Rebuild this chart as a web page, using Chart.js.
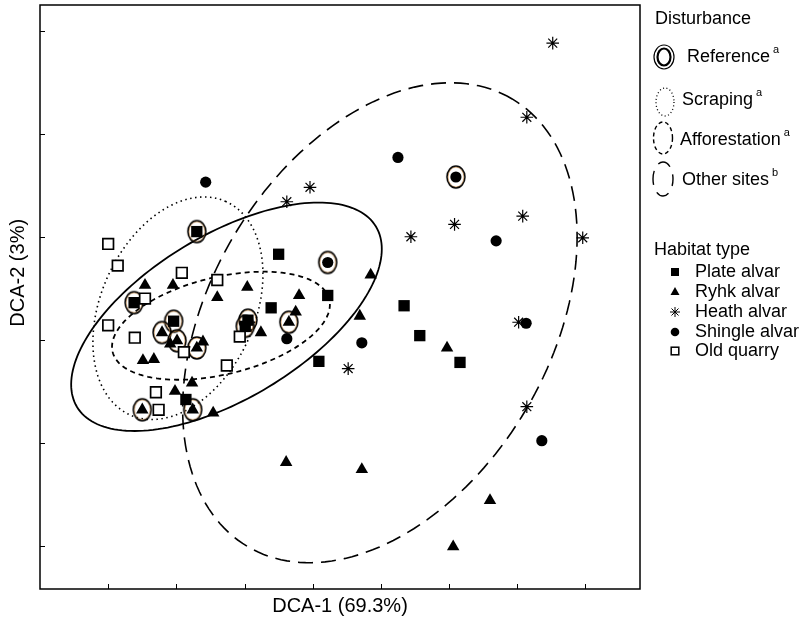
<!DOCTYPE html>
<html>
<head>
<meta charset="utf-8">
<script src="https://cdn.jsdelivr.net/npm/chart.js@4.4.1/dist/chart.umd.min.js"></script>
<style>
  html, body { margin: 0; padding: 0; background: #fff; }
  #wrap { position: relative; width: 802px; height: 621px; }
  #legend { position: absolute; left: 0; top: 0; width: 802px; height: 621px; pointer-events: none;
            font-family: "Liberation Sans", Arial, sans-serif; font-size: 18px; color: #000; }
  #legend .lbl { position: absolute; white-space: nowrap; line-height: 1; }
  #legend sup { font-size: 11px; position: relative; top: -2px; margin-left: 3px; }
  #legend svg { position: absolute; left: 0; top: 0; }
</style>
</head>
<body>
<div id="wrap">
  <canvas id="c" width="802" height="621"></canvas>
  <div id="legend"></div>
</div>
<script>
// ── data (DCA axis units) ──────────────────────────────────
const xTicks = [1, 2, 3, 4, 5, 6, 7, 8];
const yTicks = [0, 1, 2, 3, 4, 5];

const plateAlvar = [
  [2.30, 3.05], [3.50, 2.83], [1.38, 2.36], [3.39, 2.31], [1.96, 2.18], [3.05, 2.19], [3.01, 2.13],
  [4.22, 2.43], [5.34, 2.33], [5.57, 2.04], [6.16, 1.78], [4.09, 1.79], [2.14, 1.42]
];
const ryhkAlvar = [
  [1.54, 2.53], [1.95, 2.53], [2.60, 2.41], [3.04, 2.51], [3.80, 2.43], [3.75, 2.27], [3.65, 2.17],
  [4.85, 2.63], [4.69, 2.23], [5.97, 1.92], [3.24, 2.07], [2.39, 1.98], [1.79, 2.07], [2.01, 1.99],
  [1.91, 1.96], [2.30, 1.92], [1.51, 1.80], [1.67, 1.81], [1.98, 1.50], [2.23, 1.58], [1.50, 1.32],
  [2.24, 1.32], [2.54, 1.29], [3.61, 0.81], [4.72, 0.74], [6.60, 0.44], [6.06, -0.01]
];
const heathAlvar = [
  [7.52, 4.88], [7.14, 4.16], [3.96, 3.48], [3.62, 3.34], [5.44, 3.00], [6.08, 3.12],
  [7.08, 3.20], [7.96, 2.99], [7.02, 2.17], [4.52, 1.72], [7.14, 1.35]
];
const shingleAlvar = [
  [2.43, 3.53], [5.25, 3.77], [6.10, 3.58], [4.22, 2.75], [6.69, 2.96], [7.13, 2.16],
  [3.62, 2.01], [4.72, 1.97], [7.36, 1.02]
];
const oldQuarry = [
  [1.00, 2.93], [1.14, 2.72], [2.08, 2.65], [2.60, 2.58], [1.54, 2.40], [1.00, 2.14],
  [1.39, 2.02], [2.11, 1.88], [2.93, 2.03], [2.74, 1.75], [1.70, 1.49], [1.74, 1.32]
];
// sites of the "Reference" disturbance class (ringed markers)
const referenceSites = [
  [2.30, 3.05], [1.38, 2.36], [1.96, 2.18], [3.05, 2.19], [3.01, 2.13], [3.65, 2.17], [1.79, 2.07],
  [2.01, 1.99], [2.30, 1.92], [1.50, 1.32], [2.24, 1.32], [6.10, 3.58], [4.22, 2.75]
];

// ellipses: centre x, centre y, first semi-axis (dx, dy), second semi-axis (dx, dy)
const referenceEll = [2.735, 2.223, 2.192, 0.876, -0.62, 0.68];
const scrapingEll  = [2.023, 2.306, 0.703, 1.036, -1.030, 0.307];
const afforestEll  = [2.654, 2.136, 1.589, 0.254, -0.167, 0.459];
const otherEll     = [4.985, 2.165, 1.940, 2.173, -2.146, 0.840];

const disturbanceLabels = ['Reference', 'Scraping', 'Afforestation', 'Other sites'];
const disturbanceSups = ['a', 'a', 'a', 'b'];
const habitatLabels = ['Plate alvar', 'Ryhk alvar', 'Heath alvar', 'Shingle alvar', 'Old quarry'];

// ── styles ─────────────────────────────────────────────────
const FONT = '"Liberation Sans", Arial, sans-serif';
const ellipseStyles = [
  { e: referenceEll, dash: [], width: 1.8 },
  { e: scrapingEll, dash: [1.5, 3.5], width: 1.6 },
  { e: afforestEll, dash: [5, 4], width: 1.8 },
  { e: otherEll, dash: [15, 8], width: 1.6 },
];

function ringImage() {
  const c = document.createElement('canvas');
  c.width = 26; c.height = 30;
  const g = c.getContext('2d');
  g.strokeStyle = '#c98a45'; g.lineWidth = 0.8;
  g.beginPath(); g.ellipse(13, 15, 8, 10, 0, 0, Math.PI * 2); g.stroke();
  g.strokeStyle = '#000'; g.lineWidth = 1.5;
  g.beginPath(); g.ellipse(13, 15, 9, 11, 0, 0, Math.PI * 2); g.stroke();
  return c;
}

const toPts = arr => arr.map(([x, y]) => ({ x, y }));

// ellipses, frame, inward tick marks and the y title (set a little above centre, as in the figure)
const overlay = {
  id: 'overlay',
  beforeDatasetsDraw(chart) {
    const { ctx, scales: { x, y } } = chart;
    ctx.save();
    ctx.strokeStyle = '#000';
    ellipseStyles.forEach(s => {
      const [cx, cy, ax, ay, bx, by] = s.e;
      ctx.setLineDash(s.dash);
      ctx.lineWidth = s.width;
      ctx.beginPath();
      for (let i = 0; i <= 180; i++) {
        const t = i / 180 * Math.PI * 2;
        const px = x.getPixelForValue(cx + ax * Math.cos(t) + bx * Math.sin(t));
        const py = y.getPixelForValue(cy + ay * Math.cos(t) + by * Math.sin(t));
        if (i === 0) ctx.moveTo(px, py); else ctx.lineTo(px, py);
      }
      ctx.closePath();
      ctx.stroke();
    });
    ctx.restore();
  },
  afterDatasetsDraw(chart) {
    const { ctx, chartArea: a, scales: { x, y } } = chart;
    ctx.save();
    ctx.strokeStyle = '#000';
    ctx.lineWidth = 1.5;
    ctx.strokeRect(a.left, a.top, a.right - a.left, a.bottom - a.top);
    ctx.lineWidth = 1;
    ctx.beginPath();
    xTicks.forEach(v => { const p = Math.round(x.getPixelForValue(v)) + 0.5; ctx.moveTo(p, a.bottom); ctx.lineTo(p, a.bottom - 5); });
    yTicks.forEach(v => { const p = Math.round(y.getPixelForValue(v)) + 0.5; ctx.moveTo(a.left, p); ctx.lineTo(a.left + 5, p); });
    ctx.stroke();

    ctx.translate(18, y.getPixelForValue(2.65));
    ctx.rotate(-Math.PI / 2);
    ctx.fillStyle = '#000';
    ctx.font = `20px ${FONT}`;
    ctx.textAlign = 'center';
    ctx.textBaseline = 'middle';
    ctx.fillText('DCA-2 (3%)', 0, 0);
    ctx.restore();
  }
};

new Chart(document.getElementById('c'), {
  type: 'scatter',
  data: {
    datasets: [
      { label: 'Plate alvar', data: toPts(plateAlvar), pointStyle: 'rect', pointRadius: 8, backgroundColor: '#000', borderColor: '#000', borderWidth: 0 },
      { label: 'Ryhk alvar', data: toPts(ryhkAlvar), pointStyle: 'triangle', pointRadius: 7.2, backgroundColor: '#000', borderColor: '#000', borderWidth: 0 },
      { label: 'Heath alvar', data: toPts(heathAlvar), pointStyle: 'star', pointRadius: 6.3, backgroundColor: '#000', borderColor: '#000', borderWidth: 1.2 },
      { label: 'Shingle alvar', data: toPts(shingleAlvar), pointStyle: 'circle', pointRadius: 5.6, backgroundColor: '#000', borderColor: '#000', borderWidth: 0 },
      { label: 'Old quarry', data: toPts(oldQuarry), pointStyle: 'rect', pointRadius: 7.5, backgroundColor: '#fff', borderColor: '#000', borderWidth: 1.7 },
      { label: 'Reference', data: toPts(referenceSites), pointStyle: ringImage(), pointRadius: 11 },
    ]
  },
  options: {
    responsive: false,
    animation: false,
    devicePixelRatio: 1,
    layout: { autoPadding: false, padding: { top: 5, right: 162, left: 0, bottom: 0 } },
    plugins: { legend: { display: false }, tooltip: { enabled: false } },
    scales: {
      x: {
        type: 'linear', min: 0, max: 8.8,
        ticks: { display: false }, grid: { display: false }, border: { display: false },
        title: { display: true, text: 'DCA-1 (69.3%)', color: '#000', font: { family: FONT, size: 20 }, padding: { top: 0, bottom: 3 } },
        afterFit(s) { s.height = 32; s.paddingLeft = 0; s.paddingRight = 0; }
      },
      y: {
        type: 'linear', min: -0.42, max: 5.25,
        ticks: { display: false }, grid: { display: false }, border: { display: false },
        title: { display: false },
        afterFit(s) { s.width = 40; s.paddingTop = 0; s.paddingBottom = 0; }
      }
    }
  },
  plugins: [overlay]
});

// ── legend (right margin) ──────────────────────────────────
(function () {
  const el = document.getElementById('legend');
  let html = '<svg width="802" height="621" xmlns="http://www.w3.org/2000/svg">';
  // disturbance icons
  html += '<ellipse cx="664" cy="57" rx="10" ry="12" fill="none" stroke="#000" stroke-width="1.2"/>';
  html += '<ellipse cx="664" cy="57" rx="6.5" ry="8.5" fill="none" stroke="#000" stroke-width="2.2"/>';
  html += '<ellipse cx="665" cy="102" rx="9" ry="14" fill="none" stroke="#000" stroke-width="1.3" stroke-dasharray="1,2.5"/>';
  html += '<ellipse cx="663" cy="138" rx="9.5" ry="16" fill="none" stroke="#000" stroke-width="1.4" stroke-dasharray="4,3"/>';
  html += '<ellipse cx="663" cy="179" rx="10" ry="17" fill="none" stroke="#000" stroke-width="1.4" stroke-dasharray="14,8" stroke-dashoffset="7"/>';
  // habitat markers
  const mx = 675, rows = [272, 292, 312, 332, 351];
  html += `<rect x="${mx - 4}" y="${rows[0] - 4}" width="8" height="8" fill="#000"/>`;
  html += `<polygon points="${mx},${rows[1] - 5} ${mx + 4.5},${rows[1] + 3} ${mx - 4.5},${rows[1] + 3}" fill="#000"/>`;
  html += `<g stroke="#000" stroke-width="1"><line x1="${mx - 5}" y1="${rows[2]}" x2="${mx + 5}" y2="${rows[2]}"/><line x1="${mx}" y1="${rows[2] - 5}" x2="${mx}" y2="${rows[2] + 5}"/><line x1="${mx - 3.5}" y1="${rows[2] - 3.5}" x2="${mx + 3.5}" y2="${rows[2] + 3.5}"/><line x1="${mx - 3.5}" y1="${rows[2] + 3.5}" x2="${mx + 3.5}" y2="${rows[2] - 3.5}"/></g>`;
  html += `<circle cx="${mx}" cy="${rows[3]}" r="4.3" fill="#000"/>`;
  html += `<rect x="${mx - 3.8}" y="${rows[4] - 3.8}" width="7.6" height="7.6" fill="#fff" stroke="#000" stroke-width="1.5"/>`;
  html += '</svg>';

  html += '<div class="lbl" style="left:655px;top:9px">Disturbance</div>';
  const dTop = [46, 89, 129, 169], dLeft = [687, 682, 680, 682];
  disturbanceLabels.forEach((t, i) => {
    html += `<div class="lbl" style="left:${dLeft[i]}px;top:${dTop[i]}px">${t}<sup>${disturbanceSups[i]}</sup></div>`;
  });
  html += '<div class="lbl" style="left:654px;top:240px">Habitat type</div>';
  habitatLabels.forEach((t, i) => {
    html += `<div class="lbl" style="left:695px;top:${rows[i] - 10}px">${t}</div>`;
  });
  el.innerHTML = html;
})();
</script>
</body>
</html>
